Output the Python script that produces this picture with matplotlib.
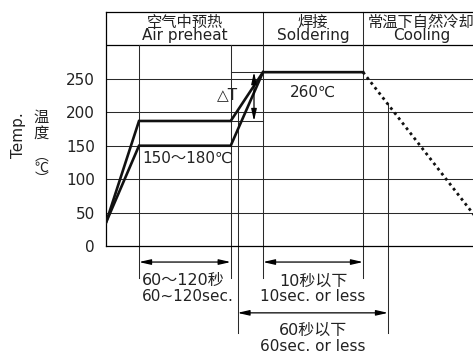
import matplotlib
matplotlib.use("Agg")
import matplotlib.pyplot as plt
import numpy as np

plt.rcParams['font.family'] = ['DejaVu Sans', 'Noto Sans CJK SC']

# reflow profile (x in arbitrary time units, y in degC)
upper_t = [0, 33, 124.7, 157, 257]
upper_temp = [35, 187, 187, 260, 260]
lower_t = [0, 33, 124.7, 157]
lower_temp = [35, 150, 150, 260]
cool_t = [257, 374]
cool_temp = [260, 35]

yticks = [0, 50, 100, 150, 200, 250]
stage_edges = [0, 157, 257, 374]
stage_cn = ["空气中预热", "焊接", "常温下自然冷却"]
stage_en = ["Air preheat", "Soldering", "Cooling"]
preheat_edges = [33, 124.7]
dt_top, dt_bottom = 260, 187
hold_edges = [131.5, 282]

W, H = 473, 354
fig = plt.figure(figsize=(W / 100, H / 100), dpi=100)
ax = fig.add_axes([106 / W, 1 - 246 / H, 374 / W, 234 / H])
ax.set_xlim(0, 374)
ax.set_ylim(0, 350)

for s in ['left', 'top', 'bottom']:
    ax.spines[s].set_linewidth(0.9)
ax.spines['right'].set_visible(False)
ax.set_xticks([])
ax.set_yticks(yticks)
ax.tick_params(axis='y', length=0, pad=8, labelsize=11, labelcolor='#222')

gc = '#2a2a2a'
glw = 0.75
for y in yticks[1:]:
    ax.axhline(y, color=gc, lw=glw, zorder=1)
ax.axhline(300, color='black', lw=0.9, zorder=1)

# stage dividers (through header, down below axis)
for x in stage_edges[1:3]:
    ax.plot([x, x], [-48, 350], color=gc, lw=glw, clip_on=False, zorder=1)
for x in preheat_edges:
    ax.plot([x, x], [-48, 300], color=gc, lw=glw, clip_on=False, zorder=1)

# header labels
for i in range(3):
    cx = (stage_edges[i] + stage_edges[i + 1]) / 2
    ax.text(cx, 324, stage_cn[i] + "\n" + stage_en[i], ha='center', va='center',
            fontsize=11, linespacing=0.85, color='#222')

# profile lines
ax.plot(upper_t, upper_temp, color='#111', lw=1.9, zorder=3, solid_joinstyle='miter')
ax.plot(lower_t, lower_temp, color='#111', lw=1.9, zorder=3, solid_joinstyle='miter')
ax.plot(cool_t, cool_temp, color='#111', lw=2.0, linestyle=(0, (1, 1.3)), zorder=3)

# delta T bracket
ax.plot([preheat_edges[1], stage_edges[1]], [dt_top, dt_top], color=gc, lw=glw, zorder=2)
ax.plot([preheat_edges[1], stage_edges[1]], [dt_bottom, dt_bottom], color=gc, lw=glw, zorder=2)
arrow = dict(arrowstyle='<|-|>,head_length=0.7,head_width=0.16', lw=0.9, color='black',
             mutation_scale=10, shrinkA=0, shrinkB=0)
ax.annotate('', xy=(148, dt_top), xytext=(148, dt_bottom), arrowprops=arrow)
ax.text(122, 226, "△T", ha='center', va='center', fontsize=11, color='#222')

ax.text(36, 131.6, "150～180℃", ha='left', va='center', fontsize=11, color='#222')
ax.text(207, 230, "260℃", ha='center', va='center', fontsize=11, color='#222')

# 60s hold lines start on the curves
start_up = np.interp(hold_edges[0], upper_t, upper_temp)
start_cool = np.interp(hold_edges[1], cool_t, cool_temp)
for x, y0 in zip(hold_edges, [start_up, start_cool]):
    ax.plot([x, x], [-130, y0], color=gc, lw=glw, clip_on=False, zorder=1)

# time arrows
ax.annotate('', xy=(preheat_edges[0], -24), xytext=(preheat_edges[1], -24),
            arrowprops=arrow, annotation_clip=False)
ax.annotate('', xy=(stage_edges[1], -24), xytext=(stage_edges[2], -24),
            arrowprops=arrow, annotation_clip=False)
ax.annotate('', xy=(hold_edges[0], -100), xytext=(hold_edges[1], -100),
            arrowprops=arrow, annotation_clip=False)

ax.text(36, -51.6, "60～120秒", ha='left', va='center', fontsize=11.5, color='#222', clip_on=False)
ax.text(36, -75.5, "60~120sec.", ha='left', va='center', fontsize=11, color='#222', clip_on=False)
ax.text(207, -53, "10秒以下", ha='center', va='center', fontsize=11.5, color='#222', clip_on=False)
ax.text(207, -75.5, "10sec. or less", ha='center', va='center', fontsize=11, color='#222', clip_on=False)
ax.text(207, -126.4, "60秒以下", ha='center', va='center', fontsize=11.5, color='#222', clip_on=False)
ax.text(207, -151, "60sec. or less", ha='center', va='center', fontsize=11, color='#222', clip_on=False)

# y axis label
fig.text(18 / W, 1 - 135 / H, "Temp.", rotation=90, ha='center', va='center',
         fontsize=11, color='#222')
cjk = ['Noto Sans CJK SC', 'DejaVu Sans']
fig.text(41.5 / W, 1 - 125 / H, "温\n度", ha='center', va='center', fontsize=11,
         linespacing=0.95, color='#222', family=cjk)
fig.text(41.5 / W, 1 - 168 / H, "︵\n℃\n︶", ha='center', va='center', fontsize=10,
         linespacing=0.75, color='#222', family=cjk)

fig.savefig("out.png", dpi=100)
